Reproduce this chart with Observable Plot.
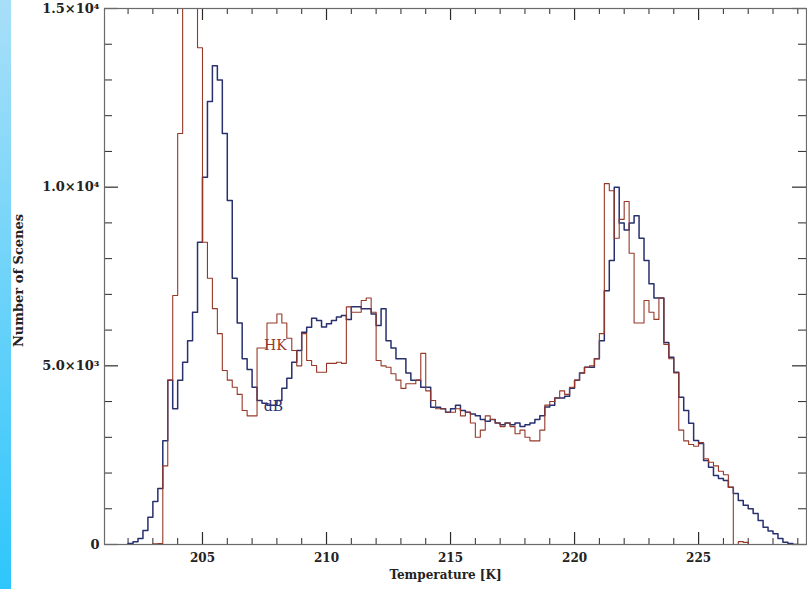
<!DOCTYPE html>
<html><head><meta charset="utf-8">
<script src="https://cdn.jsdelivr.net/npm/d3@7"></script>
<script src="https://cdn.jsdelivr.net/npm/@observablehq/plot@0.6"></script>
<style>
html,body{margin:0;padding:0;background:#fff;}
#wrap{position:relative;width:807px;height:589px;overflow:hidden;background:#fff;}
#strip{position:absolute;left:0;top:0;width:11px;height:589px;background:linear-gradient(#a8dff8,#2ec6fb);}
#chart{position:absolute;left:0;top:0;}
</style></head><body><div id="wrap"><div id="chart"></div><div id="strip"></div></div>
<script>
// Histogram bins: start temperature and width (K)
const binStart = 202.0;
const binWidth = 0.2;

// DB series counts per bin
const dbCounts = [
  30, 80, 170, 390, 760, 1200, 1570, 2900, 4600, 3800,
  4600, 5100, 5700, 6500, 8460, 10280, 12400, 13400, 13000, 11500,
  9630, 7450, 6200, 5200, 4900, 4400, 4030, 3950, 3900, 3900,
  4030, 4370, 4650, 5100, 5430, 5940, 6080, 6330, 6270, 6085,
  6180, 6270, 6365, 6410, 6300, 6650, 6650, 6600, 6600, 6450,
  6130, 6600, 5700, 5500, 5200, 5200, 4800, 4600, 4600, 4400,
  4400, 3840, 3840, 3800, 3700, 3800, 3900, 3750, 3700, 3650,
  3600, 3500, 3450, 3500, 3400, 3350, 3400, 3350, 3400, 3300,
  3350, 3400, 3500, 3600, 3850, 3900, 4100, 4100, 4150, 4370,
  4600, 4800, 4960, 4960, 5200, 5700, 7100, 7950, 10000, 9000,
  8800, 9000, 9200, 8570, 7950, 7300, 6900, 6900, 5650, 5240,
  4820, 4120, 3750, 3390, 2910, 2830, 2350, 2160, 1930, 1850,
  1790, 1600, 1430, 1230, 1100, 1000, 870, 670, 480, 380,
  300, 170, 60, 30, 0
];

// HK series counts per bin
const hkCounts = [
  0, 0, 0, 0, 0, 20, 30, 2200, 4600, 6970,
  11500, 17000, 18000, 16500, 13900, 8460, 7450, 6600, 5900, 4870,
  4600, 4400, 4200, 3750, 3600, 3600, 5500, 5500, 6200, 6200,
  6450, 6200, 5770, 5430, 5000, 5900, 5150, 5010, 4820, 4820,
  5070, 5070, 5100, 5070, 6650, 6500, 6500, 6830, 6900, 6500,
  5150, 5000, 4960, 4780, 4600, 4370, 4500, 4500, 4600, 5350,
  4300, 4030, 3800, 3800, 3700, 3700, 3800, 3600, 3700, 3400,
  3000, 3200, 3600, 3500, 3400, 3300, 3400, 3300, 3100, 3200,
  3000, 2900, 2900, 3200, 3900, 4000, 4100, 4300, 4200, 4400,
  4600, 4800, 4960, 5000, 5200, 5900, 10100, 9900, 8570, 9100,
  9600, 8150, 6200, 6200, 6830, 6500, 6300, 6900, 5600, 5200,
  4800, 3200, 2900, 2800, 2750, 2850, 2400, 2300, 2200, 2050,
  1950, 1600, 0, 80, 60, 0, 0, 0, 0, 0,
  0, 0, 0, 0, 0
];

const xMajorTicks = [205, 210, 215, 220, 225];
const xMinorTicks = [202, 203, 204, 206, 207, 208, 209, 211, 212, 213, 214, 216, 217, 218, 219, 221, 222, 223, 224, 226, 227, 228, 229];
const yMajorTicks = [0, 5000, 10000, 15000];
const yMinorTicks = [1000, 2000, 3000, 4000, 6000, 7000, 8000, 9000, 11000, 12000, 13000, 14000];
const yTickLabels = ["0", "5.0×10³", "1.0×10⁴", "1.5×10⁴"];
const seriesNames = ["HK", "dB"];
const seriesLabelT = [207.94, 207.86];
const seriesLabelV = [5570, 3860];
const seriesColors = ["#963828", "#28306e"];

function toRows(counts, series) {
  const rows = [{t: binStart, v: 0, series}];
  counts.forEach((c, i) => rows.push({t: binStart + i * binWidth, v: c, series}));
  rows.push({t: binStart + counts.length * binWidth, v: 0, series});
  return rows;
}
const dbRows = toRows(dbCounts, "dB");
const hkRows = toRows(hkCounts, "HK");
const labelRows = seriesNames.map((n, i) => ({name: n, t: seriesLabelT[i], v: seriesLabelV[i], c: seriesColors[i]}));

const W = 807, H = 589, mL = 104, mR = 1, mT = 8, mB = 45;
const fw = W - mL - mR, fh = H - mT - mB;
const tickCol = "#2a2a2a";

const chart = Plot.plot({
  width: W, height: H,
  marginLeft: mL, marginRight: mR, marginTop: mT, marginBottom: mB,
  x: {domain: [201.05, 229.35], label: null},
  y: {domain: [0, 15000], label: null},
  style: {fontFamily: "DejaVu Serif", background: "transparent", color: "#222"},
  marks: [
    Plot.tickX(xMajorTicks, {x: d => d, insetTop: fh - 12, stroke: tickCol, strokeWidth: 1.2}),
    Plot.tickX(xMinorTicks, {x: d => d, insetTop: fh - 6, stroke: tickCol}),
    Plot.tickX(xMajorTicks, {x: d => d, insetBottom: fh - 12, stroke: tickCol, strokeWidth: 1.2}),
    Plot.tickX(xMinorTicks, {x: d => d, insetBottom: fh - 6, stroke: tickCol}),
    Plot.tickY(yMajorTicks, {y: d => d, insetRight: fw - 14, stroke: tickCol, strokeWidth: 1.2}),
    Plot.tickY(yMinorTicks, {y: d => d, insetRight: fw - 8, stroke: tickCol}),
    Plot.tickY(yMajorTicks, {y: d => d, insetLeft: fw - 14, stroke: tickCol, strokeWidth: 1.2}),
    Plot.tickY(yMinorTicks, {y: d => d, insetLeft: fw - 8, stroke: tickCol}),
    Plot.line(dbRows, {x: "t", y: "v", curve: "step-after", stroke: seriesColors[1], strokeWidth: 1.5, clip: true}),
    Plot.line(hkRows, {x: "t", y: "v", curve: "step-after", stroke: seriesColors[0], strokeWidth: 1.1, clip: true}),
    Plot.frame({stroke: "#6a6a6a", strokeWidth: 1.2}),
    Plot.axisX({ticks: xMajorTicks, tickSize: 0, tickPadding: 9, fontSize: 12, fontWeight: "bold", label: null}),
    Plot.axisY({ticks: yMajorTicks, tickSize: 0, tickPadding: 5, fontSize: 13, fontWeight: "bold",
      tickFormat: d => yTickLabels[yMajorTicks.indexOf(d)], label: null}),
    Plot.text(labelRows, {x: "t", y: "v", text: "name", fill: "c", fontSize: 14, textAnchor: "middle"}),
    Plot.text(["Temperature [K]"], {frameAnchor: "bottom", dx: -10, dy: 34, text: d => d, fontSize: 12, fontWeight: "bold", fill: "#222"}),
    Plot.text(["Number of Scenes"], {frameAnchor: "left", dx: -86, dy: 4, rotate: -90, textAnchor: "middle", text: d => d, fontSize: 13, fontWeight: "bold", fill: "#222"})
  ]
});
document.getElementById("chart").appendChild(chart);
</script>
</body></html>
